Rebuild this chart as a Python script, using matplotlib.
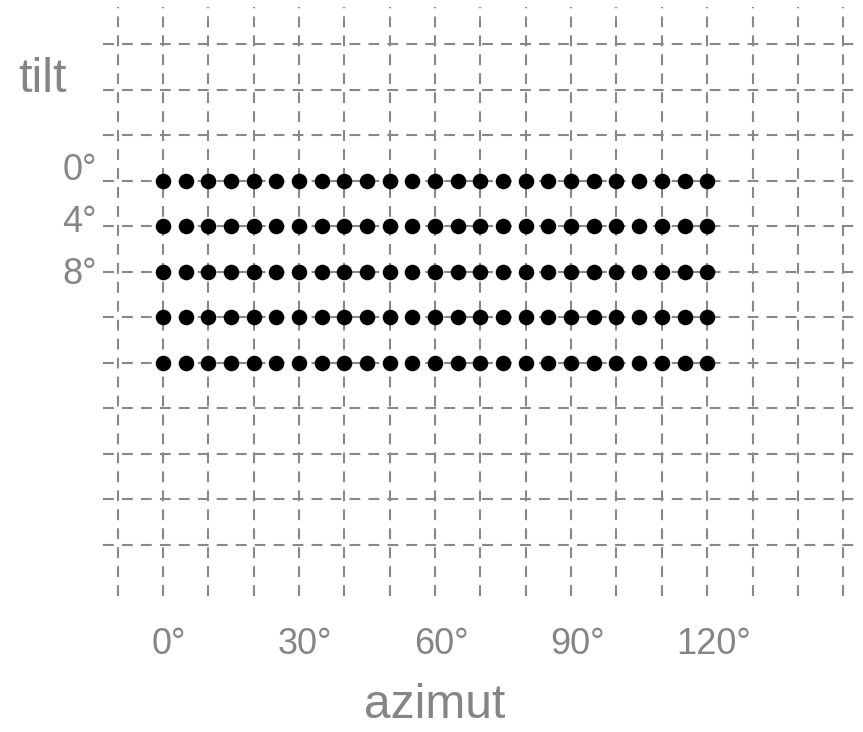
import numpy as np
import matplotlib
matplotlib.use('Agg')
import matplotlib.pyplot as plt
from matplotlib.transforms import ScaledTranslation

# ---- data ----
azimut = list(range(0, 121, 5))          # 25 azimuth values
tilt = [0, 4, 8, 12, 16]                 # 5 tilt rows
x_ticks = [0, 30, 60, 90, 120]
x_ticklabels = ['0°', '30°', '60°', '90°', '120°']
y_ticks = [0, 4, 8]
y_ticklabels = ['0°', '4°', '8°']
x_grid = list(range(-10, 151, 10))
y_grid = list(range(-12, 33, 4))

plt.rcParams['font.family'] = ['Liberation Sans', 'DejaVu Sans']
TXT = '#858585'
GRID = '#888888'

W, H = 863, 732
fig = plt.figure(figsize=(W / 100, H / 100), dpi=100)
ax_l, ax_r, ax_t, ax_b = 103, 860, 7, 596
ax = fig.add_axes([ax_l / W, 1 - ax_b / H, (ax_r - ax_l) / W, (ax_b - ax_t) / H])

ax.set_xlim(-13.24, 153.7)
ax.set_ylim(36.5, -15.25)

grid_kw = dict(color=GRID, lw=1.5, dashes=(5.2, 3.9), zorder=1)
for gx in x_grid:
    ax.axvline(gx, **grid_kw)
for gy in y_grid:
    ax.axhline(gy, **grid_kw)

X, Y = np.meshgrid(azimut, tilt)
ax.plot(X.ravel(), Y.ravel(), 'o', color='black', ms=11.2, mec='none', zorder=3)

for s in ax.spines.values():
    s.set_visible(False)

# x ticks
ax.set_xticks(x_ticks)
ax.set_xticklabels(x_ticklabels)
ax.tick_params(axis='x', length=0, pad=22.5, labelsize=26, labelcolor=TXT)
offset = ScaledTranslation(0.06, 0, fig.dpi_scale_trans)
for lab in ax.get_xticklabels():
    lab.set_transform(lab.get_transform() + offset)

# y ticks (label layout is slightly stretched relative to grid)
y_label_pos = [-1.28 + v * 1.143 for v in y_ticks]
ax.set_yticks(y_label_pos)
ax.set_yticklabels(y_ticklabels)
ax.tick_params(axis='y', length=0, pad=4.5, labelsize=26, labelcolor=TXT)

ax.set_xlabel('azimut', fontsize=34.5, color=TXT)
ax.xaxis.set_label_coords((60 + 13.24) / (153.7 + 13.24), -(705 - ax_b) / (ax_b - ax_t))
ax.xaxis.label.set_va('center')

ax.set_ylabel('tilt', fontsize=35, color=TXT, rotation=0)
ax.yaxis.set_label_coords((42 - ax_l) / (ax_r - ax_l), (ax_b - 79) / (ax_b - ax_t))
ax.yaxis.label.set_va('center')
ax.yaxis.label.set_ha('center')

fig.savefig('out.png', dpi=100)
